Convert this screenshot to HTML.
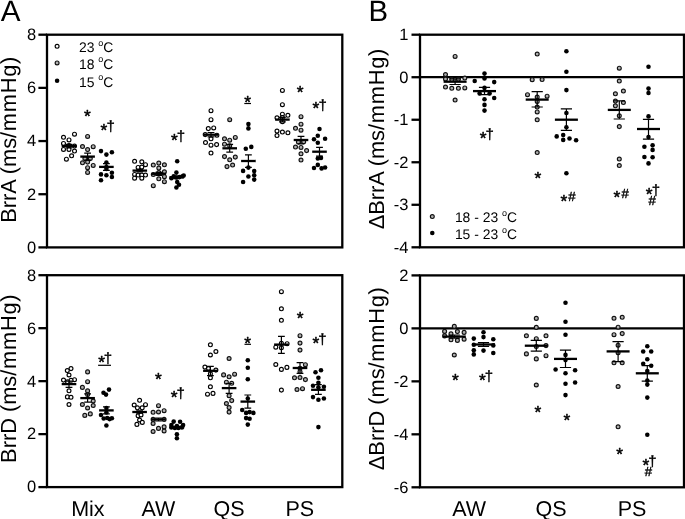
<!DOCTYPE html>
<html lang="en"><head><meta charset="utf-8"><title>Figure</title>
<style>html,body{margin:0;padding:0;background:#fff}svg{display:block;will-change:transform}text{text-rendering:geometricPrecision;font-family:"Liberation Sans", sans-serif;fill:#000}.s{stroke:#000;stroke-width:.5px;stroke-linejoin:round}.d{stroke:#000;stroke-width:.4px}</style>
</head><body>
<svg width="685" height="519" viewBox="0 0 685 519">
<rect width="685" height="519" fill="#fff"/>
<text x="0.7" y="20.8" font-size="29.6">A</text>
<text x="368.6" y="21.4" font-size="29.4">B</text>
<rect x="47.0" y="34.7" width="295.30" height="212.70" fill="none" stroke="#000" stroke-width="2.3"/>
<line x1="38.4" y1="34.70" x2="47.0" y2="34.70" stroke="#000" stroke-width="2.3"/>
<line x1="38.4" y1="87.88" x2="47.0" y2="87.88" stroke="#000" stroke-width="2.3"/>
<line x1="38.4" y1="141.05" x2="47.0" y2="141.05" stroke="#000" stroke-width="2.3"/>
<line x1="38.4" y1="194.22" x2="47.0" y2="194.22" stroke="#000" stroke-width="2.3"/>
<line x1="38.4" y1="247.40" x2="47.0" y2="247.40" stroke="#000" stroke-width="2.3"/>
<rect x="47.0" y="275.2" width="295.30" height="211.90" fill="none" stroke="#000" stroke-width="2.3"/>
<line x1="38.4" y1="275.20" x2="47.0" y2="275.20" stroke="#000" stroke-width="2.3"/>
<line x1="38.4" y1="328.18" x2="47.0" y2="328.18" stroke="#000" stroke-width="2.3"/>
<line x1="38.4" y1="381.15" x2="47.0" y2="381.15" stroke="#000" stroke-width="2.3"/>
<line x1="38.4" y1="434.12" x2="47.0" y2="434.12" stroke="#000" stroke-width="2.3"/>
<line x1="38.4" y1="487.10" x2="47.0" y2="487.10" stroke="#000" stroke-width="2.3"/>
<rect x="420.0" y="34.7" width="264.00" height="212.60" fill="none" stroke="#000" stroke-width="2.3"/>
<line x1="411.5" y1="34.70" x2="420.0" y2="34.70" stroke="#000" stroke-width="2.3"/>
<line x1="411.5" y1="77.22" x2="420.0" y2="77.22" stroke="#000" stroke-width="2.3"/>
<line x1="411.5" y1="119.74" x2="420.0" y2="119.74" stroke="#000" stroke-width="2.3"/>
<line x1="411.5" y1="162.26" x2="420.0" y2="162.26" stroke="#000" stroke-width="2.3"/>
<line x1="411.5" y1="204.78" x2="420.0" y2="204.78" stroke="#000" stroke-width="2.3"/>
<line x1="411.5" y1="247.30" x2="420.0" y2="247.30" stroke="#000" stroke-width="2.3"/>
<rect x="420.0" y="275.4" width="264.00" height="211.90" fill="none" stroke="#000" stroke-width="2.3"/>
<line x1="411.5" y1="275.40" x2="420.0" y2="275.40" stroke="#000" stroke-width="2.3"/>
<line x1="411.5" y1="328.38" x2="420.0" y2="328.38" stroke="#000" stroke-width="2.3"/>
<line x1="411.5" y1="381.35" x2="420.0" y2="381.35" stroke="#000" stroke-width="2.3"/>
<line x1="411.5" y1="434.32" x2="420.0" y2="434.32" stroke="#000" stroke-width="2.3"/>
<line x1="411.5" y1="487.30" x2="420.0" y2="487.30" stroke="#000" stroke-width="2.3"/>
<line x1="420.0" y1="77.22" x2="684.0" y2="77.22" stroke="#000" stroke-width="2.3"/>
<line x1="420.0" y1="328.38" x2="684.0" y2="328.38" stroke="#000" stroke-width="2.3"/>
<text x="36.2" y="40.06" font-size="16.5" text-anchor="end">8</text>
<text x="36.2" y="93.23" font-size="16.5" text-anchor="end">6</text>
<text x="36.2" y="146.41" font-size="16.5" text-anchor="end">4</text>
<text x="36.2" y="199.58" font-size="16.5" text-anchor="end">2</text>
<text x="36.2" y="252.76" font-size="16.5" text-anchor="end">0</text>
<text x="36.2" y="280.56" font-size="16.5" text-anchor="end">8</text>
<text x="36.2" y="333.53" font-size="16.5" text-anchor="end">6</text>
<text x="36.2" y="386.51" font-size="16.5" text-anchor="end">4</text>
<text x="36.2" y="439.48" font-size="16.5" text-anchor="end">2</text>
<text x="36.2" y="492.46" font-size="16.5" text-anchor="end">0</text>
<text x="408.5" y="40.06" font-size="16.5" text-anchor="end">1</text>
<text x="408.5" y="82.58" font-size="16.5" text-anchor="end">0</text>
<text x="408.5" y="125.10" font-size="16.5" text-anchor="end">-1</text>
<text x="408.5" y="167.62" font-size="16.5" text-anchor="end">-2</text>
<text x="408.5" y="210.14" font-size="16.5" text-anchor="end">-3</text>
<text x="408.5" y="252.66" font-size="16.5" text-anchor="end">-4</text>
<text x="408.5" y="280.76" font-size="16.5" text-anchor="end">2</text>
<text x="408.5" y="333.73" font-size="16.5" text-anchor="end">0</text>
<text x="408.5" y="386.71" font-size="16.5" text-anchor="end">-2</text>
<text x="408.5" y="439.68" font-size="16.5" text-anchor="end">-4</text>
<text x="408.5" y="492.66" font-size="16.5" text-anchor="end">-6</text>
<text transform="translate(16.2,222.7) rotate(-90)" font-size="21.8">BrrA (ms<tspan letter-spacing="0.75">/mmHg)</tspan></text>
<text transform="translate(16.4,462.9) rotate(-90)" font-size="21.8">BrrD (ms<tspan letter-spacing="0.75">/mmHg)</tspan></text>
<text transform="translate(384.0,229.3) rotate(-90)" font-size="21.8">ΔBrrA (ms<tspan letter-spacing="0.75">/mmHg)</tspan></text>
<text transform="translate(384.0,470.2) rotate(-90)" font-size="21.8">ΔBrrD (ms<tspan letter-spacing="0.75">/mmHg)</tspan></text>
<text x="87.9" y="515.8" font-size="21.5" text-anchor="middle">Mix</text>
<text x="158.5" y="515.8" font-size="21.5" text-anchor="middle">AW</text>
<text x="229.1" y="515.8" font-size="21.5" text-anchor="middle">QS</text>
<text x="299.8" y="515.8" font-size="21.5" text-anchor="middle">PS</text>
<text x="469.1" y="515.8" font-size="21.5" text-anchor="middle">AW</text>
<text x="551.1" y="515.8" font-size="21.5" text-anchor="middle">QS</text>
<text x="632.0" y="515.8" font-size="21.5" text-anchor="middle">PS</text>
<circle cx="57.1" cy="46.3" r="1.95" fill="#fff" stroke="#000" stroke-width="1.15"/>
<text x="79.0" y="52.20" font-size="13.9">23 <tspan font-size="9" dy="-6.4">o</tspan><tspan dy="6.4">C</tspan></text>
<circle cx="57.1" cy="62.9" r="1.95" fill="#b0b0b0" stroke="#111" stroke-width="1.15"/>
<text x="79.0" y="68.80" font-size="13.9">18 <tspan font-size="9" dy="-6.4">o</tspan><tspan dy="6.4">C</tspan></text>
<circle cx="57.1" cy="80.7" r="2.28" fill="#000"/>
<text x="79.0" y="86.60" font-size="13.9">15 <tspan font-size="9" dy="-6.4">o</tspan><tspan dy="6.4">C</tspan></text>
<circle cx="432.3" cy="216.5" r="1.95" fill="#b0b0b0" stroke="#111" stroke-width="1.15"/>
<text x="454.9" y="222.40" font-size="13.9">18 - 23 <tspan font-size="9" dy="-6.4">o</tspan><tspan dy="6.4">C</tspan></text>
<circle cx="432.3" cy="233.0" r="2.28" fill="#000"/>
<text x="454.9" y="238.90" font-size="13.9">15 - 23 <tspan font-size="9" dy="-6.4">o</tspan><tspan dy="6.4">C</tspan></text>
<circle cx="74.5" cy="134.2" r="1.95" fill="#fff" stroke="#000" stroke-width="1.15"/>
<circle cx="63.5" cy="137.3" r="1.95" fill="#fff" stroke="#000" stroke-width="1.15"/>
<circle cx="69" cy="139.9" r="1.95" fill="#fff" stroke="#000" stroke-width="1.15"/>
<circle cx="63.5" cy="143.4" r="1.95" fill="#fff" stroke="#000" stroke-width="1.15"/>
<circle cx="69" cy="145.5" r="1.95" fill="#fff" stroke="#000" stroke-width="1.15"/>
<circle cx="74.5" cy="146" r="1.95" fill="#fff" stroke="#000" stroke-width="1.15"/>
<circle cx="63.5" cy="149.4" r="1.95" fill="#fff" stroke="#000" stroke-width="1.15"/>
<circle cx="69" cy="149.4" r="1.95" fill="#fff" stroke="#000" stroke-width="1.15"/>
<circle cx="74.5" cy="151" r="1.95" fill="#fff" stroke="#000" stroke-width="1.15"/>
<circle cx="71.6" cy="155.8" r="1.95" fill="#fff" stroke="#000" stroke-width="1.15"/>
<circle cx="66.4" cy="159.2" r="1.95" fill="#fff" stroke="#000" stroke-width="1.15"/>
<path d="M69.0,144.4V147.8M65.6,144.4H72.4M65.6,147.8H72.4" stroke="#000" stroke-width="1.2" fill="none"/>
<line x1="61.7" y1="146.1" x2="76.3" y2="146.1" stroke="#000" stroke-width="2.3"/>
<circle cx="87.6" cy="136.4" r="1.95" fill="#b0b0b0" stroke="#111" stroke-width="1.15"/>
<circle cx="82.5" cy="146.5" r="1.95" fill="#b0b0b0" stroke="#111" stroke-width="1.15"/>
<circle cx="93.2" cy="146.7" r="1.95" fill="#b0b0b0" stroke="#111" stroke-width="1.15"/>
<circle cx="87.6" cy="149.6" r="1.95" fill="#b0b0b0" stroke="#111" stroke-width="1.15"/>
<circle cx="84.9" cy="158.6" r="1.95" fill="#b0b0b0" stroke="#111" stroke-width="1.15"/>
<circle cx="90.3" cy="158.6" r="1.95" fill="#b0b0b0" stroke="#111" stroke-width="1.15"/>
<circle cx="82.5" cy="162.8" r="1.95" fill="#b0b0b0" stroke="#111" stroke-width="1.15"/>
<circle cx="87.6" cy="162.1" r="1.95" fill="#b0b0b0" stroke="#111" stroke-width="1.15"/>
<circle cx="93.2" cy="165.4" r="1.95" fill="#b0b0b0" stroke="#111" stroke-width="1.15"/>
<circle cx="87.6" cy="167.7" r="1.95" fill="#b0b0b0" stroke="#111" stroke-width="1.15"/>
<circle cx="87.6" cy="172.4" r="1.95" fill="#b0b0b0" stroke="#111" stroke-width="1.15"/>
<path d="M87.6,153.1V160.1M84.19999999999999,153.1H91.0M84.19999999999999,160.1H91.0" stroke="#000" stroke-width="1.2" fill="none"/>
<line x1="80.3" y1="156.6" x2="94.89999999999999" y2="156.6" stroke="#000" stroke-width="2.3"/>
<circle cx="101" cy="151.1" r="2.28" fill="#000"/>
<circle cx="111.9" cy="152.2" r="2.28" fill="#000"/>
<circle cx="106.4" cy="154.6" r="2.28" fill="#000"/>
<circle cx="106.4" cy="162.5" r="2.28" fill="#000"/>
<circle cx="106.4" cy="169" r="2.28" fill="#000"/>
<circle cx="111.9" cy="172.7" r="2.28" fill="#000"/>
<circle cx="101" cy="174.4" r="2.28" fill="#000"/>
<circle cx="106.4" cy="175.3" r="2.28" fill="#000"/>
<circle cx="111.9" cy="177" r="2.28" fill="#000"/>
<circle cx="101" cy="180.3" r="2.28" fill="#000"/>
<circle cx="106.4" cy="167" r="2.28" fill="#000"/>
<path d="M106.4,163.6V170.3M103.0,163.6H109.80000000000001M103.0,170.3H109.80000000000001" stroke="#000" stroke-width="1.2" fill="none"/>
<line x1="99.10000000000001" y1="166.9" x2="113.7" y2="166.9" stroke="#000" stroke-width="2.3"/>
<circle cx="134.6" cy="161.3" r="1.95" fill="#fff" stroke="#000" stroke-width="1.15"/>
<circle cx="141.8" cy="161.8" r="1.95" fill="#fff" stroke="#000" stroke-width="1.15"/>
<circle cx="145.5" cy="164.7" r="1.95" fill="#fff" stroke="#000" stroke-width="1.15"/>
<circle cx="138.1" cy="167.4" r="1.95" fill="#fff" stroke="#000" stroke-width="1.15"/>
<circle cx="141.8" cy="167.1" r="1.95" fill="#fff" stroke="#000" stroke-width="1.15"/>
<circle cx="134.6" cy="174.4" r="1.95" fill="#fff" stroke="#000" stroke-width="1.15"/>
<circle cx="138.1" cy="175" r="1.95" fill="#fff" stroke="#000" stroke-width="1.15"/>
<circle cx="141.8" cy="175" r="1.95" fill="#fff" stroke="#000" stroke-width="1.15"/>
<circle cx="145.5" cy="175" r="1.95" fill="#fff" stroke="#000" stroke-width="1.15"/>
<circle cx="134.6" cy="178.2" r="1.95" fill="#fff" stroke="#000" stroke-width="1.15"/>
<circle cx="141.8" cy="178.2" r="1.95" fill="#fff" stroke="#000" stroke-width="1.15"/>
<path d="M139.8,169.4V171.8M136.4,169.4H143.20000000000002M136.4,171.8H143.20000000000002" stroke="#000" stroke-width="1.2" fill="none"/>
<line x1="132.5" y1="170.6" x2="147.10000000000002" y2="170.6" stroke="#000" stroke-width="2.3"/>
<circle cx="158.8" cy="163.1" r="1.95" fill="#b0b0b0" stroke="#111" stroke-width="1.15"/>
<circle cx="153.3" cy="165" r="1.95" fill="#b0b0b0" stroke="#111" stroke-width="1.15"/>
<circle cx="164.4" cy="164.8" r="1.95" fill="#b0b0b0" stroke="#111" stroke-width="1.15"/>
<circle cx="158.8" cy="168" r="1.95" fill="#b0b0b0" stroke="#111" stroke-width="1.15"/>
<circle cx="164.4" cy="171.8" r="1.95" fill="#b0b0b0" stroke="#111" stroke-width="1.15"/>
<circle cx="153.3" cy="174.4" r="1.95" fill="#b0b0b0" stroke="#111" stroke-width="1.15"/>
<circle cx="158.8" cy="172.5" r="1.95" fill="#b0b0b0" stroke="#111" stroke-width="1.15"/>
<circle cx="164.4" cy="176.7" r="1.95" fill="#b0b0b0" stroke="#111" stroke-width="1.15"/>
<circle cx="158.8" cy="178.8" r="1.95" fill="#b0b0b0" stroke="#111" stroke-width="1.15"/>
<circle cx="164.4" cy="181.7" r="1.95" fill="#b0b0b0" stroke="#111" stroke-width="1.15"/>
<circle cx="153.3" cy="185.7" r="1.95" fill="#b0b0b0" stroke="#111" stroke-width="1.15"/>
<path d="M158.8,172.3V175.3M155.4,172.3H162.20000000000002M155.4,175.3H162.20000000000002" stroke="#000" stroke-width="1.2" fill="none"/>
<line x1="151.5" y1="173.8" x2="166.10000000000002" y2="173.8" stroke="#000" stroke-width="2.3"/>
<circle cx="177.2" cy="161.2" r="2.28" fill="#000"/>
<circle cx="176.4" cy="172.6" r="2.28" fill="#000"/>
<circle cx="171.4" cy="178.3" r="2.28" fill="#000"/>
<circle cx="173.7" cy="176.2" r="2.28" fill="#000"/>
<circle cx="176.4" cy="177.5" r="2.28" fill="#000"/>
<circle cx="179.5" cy="177.0" r="2.28" fill="#000"/>
<circle cx="182.5" cy="176.3" r="2.28" fill="#000"/>
<circle cx="183.7" cy="175.5" r="2.28" fill="#000"/>
<circle cx="177.2" cy="182" r="2.28" fill="#000"/>
<circle cx="179" cy="184.7" r="2.28" fill="#000"/>
<circle cx="176.4" cy="187.5" r="2.28" fill="#000"/>
<path d="M176.8,176.0V178.6M173.4,176.0H180.20000000000002M173.4,178.6H180.20000000000002" stroke="#000" stroke-width="1.2" fill="none"/>
<line x1="169.5" y1="177.3" x2="184.10000000000002" y2="177.3" stroke="#000" stroke-width="2.3"/>
<circle cx="211" cy="110.7" r="1.95" fill="#fff" stroke="#000" stroke-width="1.15"/>
<circle cx="211" cy="119.7" r="1.95" fill="#fff" stroke="#000" stroke-width="1.15"/>
<circle cx="208.3" cy="128.6" r="1.95" fill="#fff" stroke="#000" stroke-width="1.15"/>
<circle cx="213.7" cy="127.9" r="1.95" fill="#fff" stroke="#000" stroke-width="1.15"/>
<circle cx="205.2" cy="134.6" r="1.95" fill="#fff" stroke="#000" stroke-width="1.15"/>
<circle cx="216.9" cy="135.2" r="1.95" fill="#fff" stroke="#000" stroke-width="1.15"/>
<circle cx="211" cy="138.8" r="1.95" fill="#fff" stroke="#000" stroke-width="1.15"/>
<circle cx="205.5" cy="142.5" r="1.95" fill="#fff" stroke="#000" stroke-width="1.15"/>
<circle cx="211" cy="145.2" r="1.95" fill="#fff" stroke="#000" stroke-width="1.15"/>
<circle cx="216.6" cy="144.6" r="1.95" fill="#fff" stroke="#000" stroke-width="1.15"/>
<circle cx="211" cy="153" r="1.95" fill="#fff" stroke="#000" stroke-width="1.15"/>
<path d="M211.0,132.5V136.9M207.6,132.5H214.4M207.6,136.9H214.4" stroke="#000" stroke-width="1.2" fill="none"/>
<line x1="203.7" y1="134.7" x2="218.3" y2="134.7" stroke="#000" stroke-width="2.3"/>
<circle cx="229.7" cy="119.7" r="1.95" fill="#b0b0b0" stroke="#111" stroke-width="1.15"/>
<circle cx="235.3" cy="137.4" r="1.95" fill="#b0b0b0" stroke="#111" stroke-width="1.15"/>
<circle cx="224.5" cy="138.8" r="1.95" fill="#b0b0b0" stroke="#111" stroke-width="1.15"/>
<circle cx="229.7" cy="140.2" r="1.95" fill="#b0b0b0" stroke="#111" stroke-width="1.15"/>
<circle cx="224.5" cy="144.2" r="1.95" fill="#b0b0b0" stroke="#111" stroke-width="1.15"/>
<circle cx="229.7" cy="145.8" r="1.95" fill="#b0b0b0" stroke="#111" stroke-width="1.15"/>
<circle cx="224.5" cy="156.6" r="1.95" fill="#b0b0b0" stroke="#111" stroke-width="1.15"/>
<circle cx="235.3" cy="157.1" r="1.95" fill="#b0b0b0" stroke="#111" stroke-width="1.15"/>
<circle cx="229.7" cy="159.8" r="1.95" fill="#b0b0b0" stroke="#111" stroke-width="1.15"/>
<circle cx="232.6" cy="165" r="1.95" fill="#b0b0b0" stroke="#111" stroke-width="1.15"/>
<circle cx="227" cy="166.6" r="1.95" fill="#b0b0b0" stroke="#111" stroke-width="1.15"/>
<path d="M229.7,144.4V152.2M226.29999999999998,144.4H233.1M226.29999999999998,152.2H233.1" stroke="#000" stroke-width="1.2" fill="none"/>
<line x1="222.39999999999998" y1="148.3" x2="237.0" y2="148.3" stroke="#000" stroke-width="2.3"/>
<circle cx="248.4" cy="124.1" r="2.28" fill="#000"/>
<circle cx="248.4" cy="128.4" r="2.28" fill="#000"/>
<circle cx="251.3" cy="146.9" r="2.28" fill="#000"/>
<circle cx="245.8" cy="148.7" r="2.28" fill="#000"/>
<circle cx="248.4" cy="167.6" r="2.28" fill="#000"/>
<circle cx="243.1" cy="170.9" r="2.28" fill="#000"/>
<circle cx="254.2" cy="171.1" r="2.28" fill="#000"/>
<circle cx="254.2" cy="175.2" r="2.28" fill="#000"/>
<circle cx="248.4" cy="176.5" r="2.28" fill="#000"/>
<circle cx="254.2" cy="179.6" r="2.28" fill="#000"/>
<circle cx="243.1" cy="182" r="2.28" fill="#000"/>
<path d="M248.4,154.9V167.4M245.0,154.9H251.8M245.0,167.4H251.8" stroke="#000" stroke-width="1.2" fill="none"/>
<line x1="241.1" y1="161.0" x2="255.70000000000002" y2="161.0" stroke="#000" stroke-width="2.3"/>
<circle cx="282.4" cy="90.4" r="1.95" fill="#fff" stroke="#000" stroke-width="1.15"/>
<circle cx="282.4" cy="104.7" r="1.95" fill="#fff" stroke="#000" stroke-width="1.15"/>
<circle cx="282.4" cy="114.2" r="1.95" fill="#fff" stroke="#000" stroke-width="1.15"/>
<circle cx="287.9" cy="115.3" r="1.95" fill="#fff" stroke="#000" stroke-width="1.15"/>
<circle cx="277" cy="117.8" r="1.95" fill="#fff" stroke="#000" stroke-width="1.15"/>
<circle cx="282.4" cy="117.6" r="1.95" fill="#fff" stroke="#000" stroke-width="1.15"/>
<circle cx="282.4" cy="121.7" r="1.95" fill="#fff" stroke="#000" stroke-width="1.15"/>
<circle cx="277" cy="131" r="1.95" fill="#fff" stroke="#000" stroke-width="1.15"/>
<circle cx="282.4" cy="132" r="1.95" fill="#fff" stroke="#000" stroke-width="1.15"/>
<circle cx="287.9" cy="132.8" r="1.95" fill="#fff" stroke="#000" stroke-width="1.15"/>
<circle cx="277" cy="135.5" r="1.95" fill="#fff" stroke="#000" stroke-width="1.15"/>
<path d="M282.4,117.3V121.9M279.0,117.3H285.79999999999995M279.0,121.9H285.79999999999995" stroke="#000" stroke-width="1.2" fill="none"/>
<line x1="275.09999999999997" y1="119.6" x2="289.7" y2="119.6" stroke="#000" stroke-width="2.3"/>
<circle cx="301" cy="116.7" r="1.95" fill="#b0b0b0" stroke="#111" stroke-width="1.15"/>
<circle cx="301" cy="124.2" r="1.95" fill="#b0b0b0" stroke="#111" stroke-width="1.15"/>
<circle cx="295.5" cy="128.3" r="1.95" fill="#b0b0b0" stroke="#111" stroke-width="1.15"/>
<circle cx="301" cy="130.2" r="1.95" fill="#b0b0b0" stroke="#111" stroke-width="1.15"/>
<circle cx="298.4" cy="142.1" r="1.95" fill="#b0b0b0" stroke="#111" stroke-width="1.15"/>
<circle cx="303.7" cy="141.8" r="1.95" fill="#b0b0b0" stroke="#111" stroke-width="1.15"/>
<circle cx="295.5" cy="147" r="1.95" fill="#b0b0b0" stroke="#111" stroke-width="1.15"/>
<circle cx="301" cy="147.4" r="1.95" fill="#b0b0b0" stroke="#111" stroke-width="1.15"/>
<circle cx="306.6" cy="150.6" r="1.95" fill="#b0b0b0" stroke="#111" stroke-width="1.15"/>
<circle cx="301" cy="153.8" r="1.95" fill="#b0b0b0" stroke="#111" stroke-width="1.15"/>
<circle cx="301" cy="160" r="1.95" fill="#b0b0b0" stroke="#111" stroke-width="1.15"/>
<path d="M301.0,136.3V143.9M297.6,136.3H304.4M297.6,143.9H304.4" stroke="#000" stroke-width="1.2" fill="none"/>
<line x1="293.7" y1="140.0" x2="308.3" y2="140.0" stroke="#000" stroke-width="2.3"/>
<circle cx="319.5" cy="129" r="2.28" fill="#000"/>
<circle cx="317.8" cy="135.7" r="2.28" fill="#000"/>
<circle cx="314" cy="139.2" r="2.28" fill="#000"/>
<circle cx="325.1" cy="138.8" r="2.28" fill="#000"/>
<circle cx="317.8" cy="142.7" r="2.28" fill="#000"/>
<circle cx="317.8" cy="158.5" r="2.28" fill="#000"/>
<circle cx="321" cy="157.9" r="2.28" fill="#000"/>
<circle cx="317.8" cy="164.9" r="2.28" fill="#000"/>
<circle cx="314" cy="168" r="2.28" fill="#000"/>
<circle cx="325.1" cy="167.5" r="2.28" fill="#000"/>
<circle cx="321.6" cy="168.4" r="2.28" fill="#000"/>
<path d="M319.5,147.4V156.1M316.1,147.4H322.9M316.1,156.1H322.9" stroke="#000" stroke-width="1.2" fill="none"/>
<line x1="312.2" y1="151.7" x2="326.8" y2="151.7" stroke="#000" stroke-width="2.3"/>
<circle cx="71" cy="368.6" r="1.95" fill="#fff" stroke="#000" stroke-width="1.15"/>
<circle cx="67.3" cy="370.6" r="1.95" fill="#fff" stroke="#000" stroke-width="1.15"/>
<circle cx="69" cy="375" r="1.95" fill="#fff" stroke="#000" stroke-width="1.15"/>
<circle cx="63.5" cy="380.1" r="1.95" fill="#fff" stroke="#000" stroke-width="1.15"/>
<circle cx="74.5" cy="379.7" r="1.95" fill="#fff" stroke="#000" stroke-width="1.15"/>
<circle cx="71" cy="380.3" r="1.95" fill="#fff" stroke="#000" stroke-width="1.15"/>
<circle cx="67.5" cy="381.8" r="1.95" fill="#fff" stroke="#000" stroke-width="1.15"/>
<circle cx="69" cy="390.8" r="1.95" fill="#fff" stroke="#000" stroke-width="1.15"/>
<circle cx="67.4" cy="396.9" r="1.95" fill="#fff" stroke="#000" stroke-width="1.15"/>
<circle cx="71" cy="397.3" r="1.95" fill="#fff" stroke="#000" stroke-width="1.15"/>
<circle cx="69" cy="404.5" r="1.95" fill="#fff" stroke="#000" stroke-width="1.15"/>
<path d="M69.0,381.1V387.3M65.6,381.1H72.4M65.6,387.3H72.4" stroke="#000" stroke-width="1.2" fill="none"/>
<line x1="61.7" y1="384.1" x2="76.3" y2="384.1" stroke="#000" stroke-width="2.3"/>
<circle cx="87.6" cy="371.9" r="1.95" fill="#b0b0b0" stroke="#111" stroke-width="1.15"/>
<circle cx="87.6" cy="381.7" r="1.95" fill="#b0b0b0" stroke="#111" stroke-width="1.15"/>
<circle cx="82.4" cy="387.4" r="1.95" fill="#b0b0b0" stroke="#111" stroke-width="1.15"/>
<circle cx="87.6" cy="390.9" r="1.95" fill="#b0b0b0" stroke="#111" stroke-width="1.15"/>
<circle cx="87.6" cy="394.6" r="1.95" fill="#b0b0b0" stroke="#111" stroke-width="1.15"/>
<circle cx="93.2" cy="401" r="1.95" fill="#b0b0b0" stroke="#111" stroke-width="1.15"/>
<circle cx="82.4" cy="404.5" r="1.95" fill="#b0b0b0" stroke="#111" stroke-width="1.15"/>
<circle cx="93.2" cy="405.5" r="1.95" fill="#b0b0b0" stroke="#111" stroke-width="1.15"/>
<circle cx="87.6" cy="408" r="1.95" fill="#b0b0b0" stroke="#111" stroke-width="1.15"/>
<circle cx="90.3" cy="413.9" r="1.95" fill="#b0b0b0" stroke="#111" stroke-width="1.15"/>
<circle cx="84.8" cy="415.4" r="1.95" fill="#b0b0b0" stroke="#111" stroke-width="1.15"/>
<path d="M87.6,393.8V402.2M84.19999999999999,393.8H91.0M84.19999999999999,402.2H91.0" stroke="#000" stroke-width="1.2" fill="none"/>
<line x1="80.3" y1="398.1" x2="94.89999999999999" y2="398.1" stroke="#000" stroke-width="2.3"/>
<circle cx="109" cy="389.6" r="2.28" fill="#000"/>
<circle cx="103.5" cy="392.7" r="2.28" fill="#000"/>
<circle cx="106" cy="394.6" r="2.28" fill="#000"/>
<circle cx="106.4" cy="408" r="2.28" fill="#000"/>
<circle cx="101" cy="415" r="2.28" fill="#000"/>
<circle cx="103.7" cy="418.5" r="2.28" fill="#000"/>
<circle cx="107.2" cy="418" r="2.28" fill="#000"/>
<circle cx="109.6" cy="419.1" r="2.28" fill="#000"/>
<circle cx="111.9" cy="418.3" r="2.28" fill="#000"/>
<circle cx="106.4" cy="425.5" r="2.28" fill="#000"/>
<circle cx="106.4" cy="412.5" r="2.28" fill="#000"/>
<path d="M106.4,406.9V413.9M103.0,406.9H109.80000000000001M103.0,413.9H109.80000000000001" stroke="#000" stroke-width="1.2" fill="none"/>
<line x1="99.10000000000001" y1="410.4" x2="113.7" y2="410.4" stroke="#000" stroke-width="2.3"/>
<circle cx="139.6" cy="400.3" r="1.95" fill="#fff" stroke="#000" stroke-width="1.15"/>
<circle cx="134.2" cy="405" r="1.95" fill="#fff" stroke="#000" stroke-width="1.15"/>
<circle cx="145.5" cy="404.7" r="1.95" fill="#fff" stroke="#000" stroke-width="1.15"/>
<circle cx="137.4" cy="407.8" r="1.95" fill="#fff" stroke="#000" stroke-width="1.15"/>
<circle cx="142.2" cy="407.8" r="1.95" fill="#fff" stroke="#000" stroke-width="1.15"/>
<circle cx="138.1" cy="415.8" r="1.95" fill="#fff" stroke="#000" stroke-width="1.15"/>
<circle cx="141" cy="414.9" r="1.95" fill="#fff" stroke="#000" stroke-width="1.15"/>
<circle cx="139.6" cy="420" r="1.95" fill="#fff" stroke="#000" stroke-width="1.15"/>
<circle cx="142.3" cy="422.4" r="1.95" fill="#fff" stroke="#000" stroke-width="1.15"/>
<circle cx="136.9" cy="424.4" r="1.95" fill="#fff" stroke="#000" stroke-width="1.15"/>
<path d="M139.6,410.8V413.2M136.2,410.8H143.0M136.2,413.2H143.0" stroke="#000" stroke-width="1.2" fill="none"/>
<line x1="132.29999999999998" y1="412.0" x2="146.9" y2="412.0" stroke="#000" stroke-width="2.3"/>
<circle cx="158.5" cy="405.7" r="1.95" fill="#b0b0b0" stroke="#111" stroke-width="1.15"/>
<circle cx="164.1" cy="410.7" r="1.95" fill="#b0b0b0" stroke="#111" stroke-width="1.15"/>
<circle cx="153.1" cy="412.3" r="1.95" fill="#b0b0b0" stroke="#111" stroke-width="1.15"/>
<circle cx="158.5" cy="412" r="1.95" fill="#b0b0b0" stroke="#111" stroke-width="1.15"/>
<circle cx="153.1" cy="419.4" r="1.95" fill="#b0b0b0" stroke="#111" stroke-width="1.15"/>
<circle cx="164.1" cy="419.4" r="1.95" fill="#b0b0b0" stroke="#111" stroke-width="1.15"/>
<circle cx="153.1" cy="423.5" r="1.95" fill="#b0b0b0" stroke="#111" stroke-width="1.15"/>
<circle cx="164.1" cy="426.9" r="1.95" fill="#b0b0b0" stroke="#111" stroke-width="1.15"/>
<circle cx="158.5" cy="428.4" r="1.95" fill="#b0b0b0" stroke="#111" stroke-width="1.15"/>
<circle cx="164.1" cy="431" r="1.95" fill="#b0b0b0" stroke="#111" stroke-width="1.15"/>
<circle cx="153.1" cy="431.5" r="1.95" fill="#b0b0b0" stroke="#111" stroke-width="1.15"/>
<path d="M158.5,418.0V421.0M155.1,418.0H161.9M155.1,421.0H161.9" stroke="#000" stroke-width="1.2" fill="none"/>
<line x1="151.2" y1="419.4" x2="165.8" y2="419.4" stroke="#000" stroke-width="2.3"/>
<circle cx="173.7" cy="421.6" r="2.28" fill="#000"/>
<circle cx="180.1" cy="421.8" r="2.28" fill="#000"/>
<circle cx="171.4" cy="425.1" r="2.28" fill="#000"/>
<circle cx="183.1" cy="425.1" r="2.28" fill="#000"/>
<circle cx="171.4" cy="427.4" r="2.28" fill="#000"/>
<circle cx="174.9" cy="428" r="2.28" fill="#000"/>
<circle cx="178.4" cy="428" r="2.28" fill="#000"/>
<circle cx="181.9" cy="427.4" r="2.28" fill="#000"/>
<circle cx="176.9" cy="426" r="2.28" fill="#000"/>
<circle cx="176.9" cy="434.2" r="2.28" fill="#000"/>
<circle cx="176.9" cy="438.3" r="2.28" fill="#000"/>
<path d="M176.9,426.4V428.4M173.5,426.4H180.3M173.5,428.4H180.3" stroke="#000" stroke-width="1.2" fill="none"/>
<line x1="169.6" y1="427.4" x2="184.20000000000002" y2="427.4" stroke="#000" stroke-width="2.3"/>
<circle cx="210.4" cy="344.8" r="1.95" fill="#fff" stroke="#000" stroke-width="1.15"/>
<circle cx="215.9" cy="351.5" r="1.95" fill="#fff" stroke="#000" stroke-width="1.15"/>
<circle cx="210.4" cy="355" r="1.95" fill="#fff" stroke="#000" stroke-width="1.15"/>
<circle cx="204.9" cy="367.1" r="1.95" fill="#fff" stroke="#000" stroke-width="1.15"/>
<circle cx="215.9" cy="370.1" r="1.95" fill="#fff" stroke="#000" stroke-width="1.15"/>
<circle cx="208.5" cy="368.5" r="1.95" fill="#fff" stroke="#000" stroke-width="1.15"/>
<circle cx="210.4" cy="373.8" r="1.95" fill="#fff" stroke="#000" stroke-width="1.15"/>
<circle cx="210.4" cy="377.8" r="1.95" fill="#fff" stroke="#000" stroke-width="1.15"/>
<circle cx="210.4" cy="386.8" r="1.95" fill="#fff" stroke="#000" stroke-width="1.15"/>
<circle cx="207.5" cy="394.2" r="1.95" fill="#fff" stroke="#000" stroke-width="1.15"/>
<circle cx="213" cy="393.4" r="1.95" fill="#fff" stroke="#000" stroke-width="1.15"/>
<path d="M210.4,366.3V375.6M207.0,366.3H213.8M207.0,375.6H213.8" stroke="#000" stroke-width="1.2" fill="none"/>
<line x1="203.1" y1="370.8" x2="217.70000000000002" y2="370.8" stroke="#000" stroke-width="2.3"/>
<circle cx="229.1" cy="358.5" r="1.95" fill="#b0b0b0" stroke="#111" stroke-width="1.15"/>
<circle cx="234.6" cy="374.2" r="1.95" fill="#b0b0b0" stroke="#111" stroke-width="1.15"/>
<circle cx="223.6" cy="374.9" r="1.95" fill="#b0b0b0" stroke="#111" stroke-width="1.15"/>
<circle cx="229.1" cy="376.8" r="1.95" fill="#b0b0b0" stroke="#111" stroke-width="1.15"/>
<circle cx="226.4" cy="382.2" r="1.95" fill="#b0b0b0" stroke="#111" stroke-width="1.15"/>
<circle cx="231.7" cy="383.3" r="1.95" fill="#b0b0b0" stroke="#111" stroke-width="1.15"/>
<circle cx="229.1" cy="395.7" r="1.95" fill="#b0b0b0" stroke="#111" stroke-width="1.15"/>
<circle cx="231.7" cy="400.6" r="1.95" fill="#b0b0b0" stroke="#111" stroke-width="1.15"/>
<circle cx="226.4" cy="403.5" r="1.95" fill="#b0b0b0" stroke="#111" stroke-width="1.15"/>
<circle cx="229.1" cy="407.6" r="1.95" fill="#b0b0b0" stroke="#111" stroke-width="1.15"/>
<circle cx="229.1" cy="412.1" r="1.95" fill="#b0b0b0" stroke="#111" stroke-width="1.15"/>
<path d="M229.1,383.5V393.4M225.7,383.5H232.5M225.7,393.4H232.5" stroke="#000" stroke-width="1.2" fill="none"/>
<line x1="221.79999999999998" y1="388.1" x2="236.4" y2="388.1" stroke="#000" stroke-width="2.3"/>
<circle cx="247.8" cy="360.3" r="2.28" fill="#000"/>
<circle cx="247.8" cy="367.7" r="2.28" fill="#000"/>
<circle cx="247.8" cy="379.2" r="2.28" fill="#000"/>
<circle cx="247.8" cy="398.5" r="2.28" fill="#000"/>
<circle cx="242.2" cy="410" r="2.28" fill="#000"/>
<circle cx="246.1" cy="412.9" r="2.28" fill="#000"/>
<circle cx="249.6" cy="412.1" r="2.28" fill="#000"/>
<circle cx="253.4" cy="412.9" r="2.28" fill="#000"/>
<circle cx="246.1" cy="418.1" r="2.28" fill="#000"/>
<circle cx="249.6" cy="418.7" r="2.28" fill="#000"/>
<circle cx="247.8" cy="424.6" r="2.28" fill="#000"/>
<path d="M247.8,395.0V408.2M244.4,395.0H251.20000000000002M244.4,408.2H251.20000000000002" stroke="#000" stroke-width="1.2" fill="none"/>
<line x1="240.5" y1="401.6" x2="255.10000000000002" y2="401.6" stroke="#000" stroke-width="2.3"/>
<circle cx="281.4" cy="291.7" r="1.95" fill="#fff" stroke="#000" stroke-width="1.15"/>
<circle cx="281.4" cy="308.8" r="1.95" fill="#fff" stroke="#000" stroke-width="1.15"/>
<circle cx="281.4" cy="320.3" r="1.95" fill="#fff" stroke="#000" stroke-width="1.15"/>
<circle cx="281.4" cy="343.3" r="1.95" fill="#fff" stroke="#000" stroke-width="1.15"/>
<circle cx="287.1" cy="343.7" r="1.95" fill="#fff" stroke="#000" stroke-width="1.15"/>
<circle cx="275.8" cy="347.2" r="1.95" fill="#fff" stroke="#000" stroke-width="1.15"/>
<circle cx="281.4" cy="347.8" r="1.95" fill="#fff" stroke="#000" stroke-width="1.15"/>
<circle cx="275.8" cy="364.5" r="1.95" fill="#fff" stroke="#000" stroke-width="1.15"/>
<circle cx="286.9" cy="367.4" r="1.95" fill="#fff" stroke="#000" stroke-width="1.15"/>
<circle cx="281.4" cy="369.4" r="1.95" fill="#fff" stroke="#000" stroke-width="1.15"/>
<circle cx="281.4" cy="390.1" r="1.95" fill="#fff" stroke="#000" stroke-width="1.15"/>
<path d="M281.4,336.4V353.4M278.0,336.4H284.79999999999995M278.0,353.4H284.79999999999995" stroke="#000" stroke-width="1.2" fill="none"/>
<line x1="274.09999999999997" y1="344.6" x2="288.7" y2="344.6" stroke="#000" stroke-width="2.3"/>
<circle cx="300" cy="335.7" r="1.95" fill="#b0b0b0" stroke="#111" stroke-width="1.15"/>
<circle cx="300" cy="343.1" r="1.95" fill="#b0b0b0" stroke="#111" stroke-width="1.15"/>
<circle cx="300" cy="350.1" r="1.95" fill="#b0b0b0" stroke="#111" stroke-width="1.15"/>
<circle cx="305.4" cy="364.7" r="1.95" fill="#b0b0b0" stroke="#111" stroke-width="1.15"/>
<circle cx="300" cy="368.2" r="1.95" fill="#b0b0b0" stroke="#111" stroke-width="1.15"/>
<circle cx="300" cy="371.7" r="1.95" fill="#b0b0b0" stroke="#111" stroke-width="1.15"/>
<circle cx="294.5" cy="377.8" r="1.95" fill="#b0b0b0" stroke="#111" stroke-width="1.15"/>
<circle cx="300" cy="377.5" r="1.95" fill="#b0b0b0" stroke="#111" stroke-width="1.15"/>
<circle cx="305.4" cy="379.6" r="1.95" fill="#b0b0b0" stroke="#111" stroke-width="1.15"/>
<circle cx="297" cy="389.5" r="1.95" fill="#b0b0b0" stroke="#111" stroke-width="1.15"/>
<circle cx="302.5" cy="388.7" r="1.95" fill="#b0b0b0" stroke="#111" stroke-width="1.15"/>
<path d="M300.0,362.6V373.3M296.6,362.6H303.4M296.6,373.3H303.4" stroke="#000" stroke-width="1.2" fill="none"/>
<line x1="292.7" y1="368.0" x2="307.3" y2="368.0" stroke="#000" stroke-width="2.3"/>
<circle cx="321" cy="370.2" r="2.28" fill="#000"/>
<circle cx="315.5" cy="372.2" r="2.28" fill="#000"/>
<circle cx="318.4" cy="377.7" r="2.28" fill="#000"/>
<circle cx="318.4" cy="382.8" r="2.28" fill="#000"/>
<circle cx="313" cy="385.8" r="2.28" fill="#000"/>
<circle cx="323.9" cy="386.8" r="2.28" fill="#000"/>
<circle cx="318.4" cy="387.2" r="2.28" fill="#000"/>
<circle cx="313" cy="397.1" r="2.28" fill="#000"/>
<circle cx="323.9" cy="398.5" r="2.28" fill="#000"/>
<circle cx="318.4" cy="399.8" r="2.28" fill="#000"/>
<circle cx="318.4" cy="427.1" r="2.28" fill="#000"/>
<path d="M318.4,384.6V394.4M315.0,384.6H321.79999999999995M315.0,394.4H321.79999999999995" stroke="#000" stroke-width="1.2" fill="none"/>
<line x1="311.09999999999997" y1="389.8" x2="325.7" y2="389.8" stroke="#000" stroke-width="2.3"/>
<circle cx="455.1" cy="56.4" r="1.95" fill="#b0b0b0" stroke="#111" stroke-width="1.15"/>
<circle cx="445.5" cy="74.5" r="1.95" fill="#b0b0b0" stroke="#111" stroke-width="1.15"/>
<circle cx="464.8" cy="78" r="1.95" fill="#b0b0b0" stroke="#111" stroke-width="1.15"/>
<circle cx="445.5" cy="79" r="1.95" fill="#b0b0b0" stroke="#111" stroke-width="1.15"/>
<circle cx="451.8" cy="79.5" r="1.95" fill="#b0b0b0" stroke="#111" stroke-width="1.15"/>
<circle cx="458.4" cy="79.3" r="1.95" fill="#b0b0b0" stroke="#111" stroke-width="1.15"/>
<circle cx="445.5" cy="87" r="1.95" fill="#b0b0b0" stroke="#111" stroke-width="1.15"/>
<circle cx="451.8" cy="88.3" r="1.95" fill="#b0b0b0" stroke="#111" stroke-width="1.15"/>
<circle cx="458.4" cy="88.3" r="1.95" fill="#b0b0b0" stroke="#111" stroke-width="1.15"/>
<circle cx="464.8" cy="87.9" r="1.95" fill="#b0b0b0" stroke="#111" stroke-width="1.15"/>
<circle cx="455.1" cy="100" r="1.95" fill="#b0b0b0" stroke="#111" stroke-width="1.15"/>
<path d="M455.1,78.9V84.5M449.5,78.9H460.70000000000005M449.5,84.5H460.70000000000005" stroke="#000" stroke-width="1.2" fill="none"/>
<line x1="443.6" y1="81.7" x2="466.6" y2="81.7" stroke="#000" stroke-width="2.3"/>
<circle cx="484.5" cy="73.6" r="2.28" fill="#000"/>
<circle cx="484.5" cy="78.5" r="2.28" fill="#000"/>
<circle cx="474.7" cy="81" r="2.28" fill="#000"/>
<circle cx="494.2" cy="82.1" r="2.28" fill="#000"/>
<circle cx="484.5" cy="87.9" r="2.28" fill="#000"/>
<circle cx="479.6" cy="93.4" r="2.28" fill="#000"/>
<circle cx="489.6" cy="93.4" r="2.28" fill="#000"/>
<circle cx="494.2" cy="98" r="2.28" fill="#000"/>
<circle cx="484.5" cy="99.2" r="2.28" fill="#000"/>
<circle cx="484.5" cy="104.9" r="2.28" fill="#000"/>
<circle cx="484.5" cy="110.6" r="2.28" fill="#000"/>
<path d="M484.5,87.4V94.6M478.9,87.4H490.1M478.9,94.6H490.1" stroke="#000" stroke-width="1.2" fill="none"/>
<line x1="473.0" y1="91.1" x2="496.0" y2="91.1" stroke="#000" stroke-width="2.3"/>
<circle cx="537.2" cy="54" r="1.95" fill="#b0b0b0" stroke="#111" stroke-width="1.15"/>
<circle cx="532.2" cy="79.7" r="1.95" fill="#b0b0b0" stroke="#111" stroke-width="1.15"/>
<circle cx="542.1" cy="79.5" r="1.95" fill="#b0b0b0" stroke="#111" stroke-width="1.15"/>
<circle cx="527.5" cy="94.7" r="1.95" fill="#b0b0b0" stroke="#111" stroke-width="1.15"/>
<circle cx="547.1" cy="96.2" r="1.95" fill="#b0b0b0" stroke="#111" stroke-width="1.15"/>
<circle cx="537.2" cy="97.1" r="1.95" fill="#b0b0b0" stroke="#111" stroke-width="1.15"/>
<circle cx="537.2" cy="101.4" r="1.95" fill="#b0b0b0" stroke="#111" stroke-width="1.15"/>
<circle cx="537.2" cy="107" r="1.95" fill="#b0b0b0" stroke="#111" stroke-width="1.15"/>
<circle cx="537.2" cy="111.9" r="1.95" fill="#b0b0b0" stroke="#111" stroke-width="1.15"/>
<circle cx="537.2" cy="119.8" r="1.95" fill="#b0b0b0" stroke="#111" stroke-width="1.15"/>
<circle cx="537.2" cy="152.5" r="1.95" fill="#b0b0b0" stroke="#111" stroke-width="1.15"/>
<path d="M537.2,91.7V107.0M531.6,91.7H542.8000000000001M531.6,107.0H542.8000000000001" stroke="#000" stroke-width="1.2" fill="none"/>
<line x1="525.7" y1="99.6" x2="548.7" y2="99.6" stroke="#000" stroke-width="2.3"/>
<circle cx="566.4" cy="51.3" r="2.28" fill="#000"/>
<circle cx="566.4" cy="71.8" r="2.28" fill="#000"/>
<circle cx="566.4" cy="90.1" r="2.28" fill="#000"/>
<circle cx="566.4" cy="113" r="2.28" fill="#000"/>
<circle cx="566.4" cy="127.3" r="2.28" fill="#000"/>
<circle cx="556.7" cy="136.4" r="2.28" fill="#000"/>
<circle cx="563.2" cy="135" r="2.28" fill="#000"/>
<circle cx="563.2" cy="139.9" r="2.28" fill="#000"/>
<circle cx="569.5" cy="138.5" r="2.28" fill="#000"/>
<circle cx="576.1" cy="140.2" r="2.28" fill="#000"/>
<circle cx="566.4" cy="173.3" r="2.28" fill="#000"/>
<path d="M566.4,108.9V130.3M560.8,108.9H572.0M560.8,130.3H572.0" stroke="#000" stroke-width="1.2" fill="none"/>
<line x1="554.9" y1="119.7" x2="577.9" y2="119.7" stroke="#000" stroke-width="2.3"/>
<circle cx="619.3" cy="68.2" r="1.95" fill="#b0b0b0" stroke="#111" stroke-width="1.15"/>
<circle cx="619.3" cy="81" r="1.95" fill="#b0b0b0" stroke="#111" stroke-width="1.15"/>
<circle cx="623.4" cy="91" r="1.95" fill="#b0b0b0" stroke="#111" stroke-width="1.15"/>
<circle cx="615.4" cy="93.8" r="1.95" fill="#b0b0b0" stroke="#111" stroke-width="1.15"/>
<circle cx="615.4" cy="101.1" r="1.95" fill="#b0b0b0" stroke="#111" stroke-width="1.15"/>
<circle cx="623.4" cy="102.5" r="1.95" fill="#b0b0b0" stroke="#111" stroke-width="1.15"/>
<circle cx="615.4" cy="105.8" r="1.95" fill="#b0b0b0" stroke="#111" stroke-width="1.15"/>
<circle cx="619.3" cy="115.8" r="1.95" fill="#b0b0b0" stroke="#111" stroke-width="1.15"/>
<circle cx="619.3" cy="126.6" r="1.95" fill="#b0b0b0" stroke="#111" stroke-width="1.15"/>
<circle cx="619.3" cy="159" r="1.95" fill="#b0b0b0" stroke="#111" stroke-width="1.15"/>
<circle cx="619.3" cy="165.5" r="1.95" fill="#b0b0b0" stroke="#111" stroke-width="1.15"/>
<path d="M619.3,100.8V119.0M613.6999999999999,100.8H624.9M613.6999999999999,119.0H624.9" stroke="#000" stroke-width="1.2" fill="none"/>
<line x1="607.8" y1="109.9" x2="630.8" y2="109.9" stroke="#000" stroke-width="2.3"/>
<circle cx="648.5" cy="66.8" r="2.28" fill="#000"/>
<circle cx="648.5" cy="88.6" r="2.28" fill="#000"/>
<circle cx="648.5" cy="93" r="2.28" fill="#000"/>
<circle cx="648.5" cy="116.4" r="2.28" fill="#000"/>
<circle cx="648.5" cy="137.1" r="2.28" fill="#000"/>
<circle cx="644.4" cy="146.8" r="2.28" fill="#000"/>
<circle cx="652.6" cy="145.2" r="2.28" fill="#000"/>
<circle cx="652.6" cy="149.9" r="2.28" fill="#000"/>
<circle cx="644.4" cy="157" r="2.28" fill="#000"/>
<circle cx="652.6" cy="157.3" r="2.28" fill="#000"/>
<circle cx="648.5" cy="163.4" r="2.28" fill="#000"/>
<path d="M648.5,119.3V139.1M642.9,119.3H654.1M642.9,139.1H654.1" stroke="#000" stroke-width="1.2" fill="none"/>
<line x1="637.0" y1="129.0" x2="660.0" y2="129.0" stroke="#000" stroke-width="2.3"/>
<circle cx="454.3" cy="326.4" r="1.95" fill="#b0b0b0" stroke="#111" stroke-width="1.15"/>
<circle cx="444.6" cy="331.4" r="1.95" fill="#b0b0b0" stroke="#111" stroke-width="1.15"/>
<circle cx="457.4" cy="331.6" r="1.95" fill="#b0b0b0" stroke="#111" stroke-width="1.15"/>
<circle cx="464.1" cy="332.4" r="1.95" fill="#b0b0b0" stroke="#111" stroke-width="1.15"/>
<circle cx="451" cy="333.9" r="1.95" fill="#b0b0b0" stroke="#111" stroke-width="1.15"/>
<circle cx="444.6" cy="335.9" r="1.95" fill="#b0b0b0" stroke="#111" stroke-width="1.15"/>
<circle cx="451" cy="339.8" r="1.95" fill="#b0b0b0" stroke="#111" stroke-width="1.15"/>
<circle cx="457.4" cy="340.4" r="1.95" fill="#b0b0b0" stroke="#111" stroke-width="1.15"/>
<circle cx="464.1" cy="339.2" r="1.95" fill="#b0b0b0" stroke="#111" stroke-width="1.15"/>
<circle cx="454.3" cy="355" r="1.95" fill="#b0b0b0" stroke="#111" stroke-width="1.15"/>
<path d="M454.3,335.0V338.2M448.7,335.0H459.90000000000003M448.7,338.2H459.90000000000003" stroke="#000" stroke-width="1.2" fill="none"/>
<line x1="442.8" y1="336.6" x2="465.8" y2="336.6" stroke="#000" stroke-width="2.3"/>
<circle cx="483.5" cy="332.2" r="2.28" fill="#000"/>
<circle cx="483.5" cy="337.1" r="2.28" fill="#000"/>
<circle cx="473.8" cy="338.6" r="2.28" fill="#000"/>
<circle cx="493.3" cy="339.2" r="2.28" fill="#000"/>
<circle cx="473.8" cy="344.7" r="2.28" fill="#000"/>
<circle cx="493.3" cy="345.4" r="2.28" fill="#000"/>
<circle cx="483.5" cy="350.6" r="2.28" fill="#000"/>
<circle cx="473.8" cy="350.3" r="2.28" fill="#000"/>
<circle cx="493.3" cy="353" r="2.28" fill="#000"/>
<circle cx="473.8" cy="354.4" r="2.28" fill="#000"/>
<path d="M483.5,342.7V346.4M477.9,342.7H489.1M477.9,346.4H489.1" stroke="#000" stroke-width="1.2" fill="none"/>
<line x1="472.0" y1="344.5" x2="495.0" y2="344.5" stroke="#000" stroke-width="2.3"/>
<circle cx="536.3" cy="318.4" r="1.95" fill="#b0b0b0" stroke="#111" stroke-width="1.15"/>
<circle cx="536.3" cy="327.4" r="1.95" fill="#b0b0b0" stroke="#111" stroke-width="1.15"/>
<circle cx="526.4" cy="335.8" r="1.95" fill="#b0b0b0" stroke="#111" stroke-width="1.15"/>
<circle cx="546" cy="335.8" r="1.95" fill="#b0b0b0" stroke="#111" stroke-width="1.15"/>
<circle cx="536.3" cy="338.7" r="1.95" fill="#b0b0b0" stroke="#111" stroke-width="1.15"/>
<circle cx="546" cy="345.6" r="1.95" fill="#b0b0b0" stroke="#111" stroke-width="1.15"/>
<circle cx="536.3" cy="346.5" r="1.95" fill="#b0b0b0" stroke="#111" stroke-width="1.15"/>
<circle cx="526.4" cy="353.9" r="1.95" fill="#b0b0b0" stroke="#111" stroke-width="1.15"/>
<circle cx="546" cy="355.7" r="1.95" fill="#b0b0b0" stroke="#111" stroke-width="1.15"/>
<circle cx="536.3" cy="358.9" r="1.95" fill="#b0b0b0" stroke="#111" stroke-width="1.15"/>
<circle cx="536.3" cy="385" r="1.95" fill="#b0b0b0" stroke="#111" stroke-width="1.15"/>
<path d="M536.3,340.4V351.1M530.6999999999999,340.4H541.9M530.6999999999999,351.1H541.9" stroke="#000" stroke-width="1.2" fill="none"/>
<line x1="524.8" y1="345.7" x2="547.8" y2="345.7" stroke="#000" stroke-width="2.3"/>
<circle cx="565.5" cy="302.8" r="2.28" fill="#000"/>
<circle cx="565.5" cy="321.8" r="2.28" fill="#000"/>
<circle cx="565.5" cy="334.7" r="2.28" fill="#000"/>
<circle cx="565.5" cy="354.9" r="2.28" fill="#000"/>
<circle cx="565.5" cy="360.1" r="2.28" fill="#000"/>
<circle cx="555.6" cy="369.5" r="2.28" fill="#000"/>
<circle cx="575.1" cy="370.3" r="2.28" fill="#000"/>
<circle cx="565.5" cy="373.3" r="2.28" fill="#000"/>
<circle cx="565.5" cy="383.7" r="2.28" fill="#000"/>
<circle cx="575.1" cy="382.5" r="2.28" fill="#000"/>
<circle cx="565.5" cy="395.1" r="2.28" fill="#000"/>
<path d="M565.5,350.2V367.5M559.9,350.2H571.1M559.9,367.5H571.1" stroke="#000" stroke-width="1.2" fill="none"/>
<line x1="554.0" y1="358.9" x2="577.0" y2="358.9" stroke="#000" stroke-width="2.3"/>
<circle cx="614" cy="318.3" r="1.95" fill="#b0b0b0" stroke="#111" stroke-width="1.15"/>
<circle cx="622.2" cy="317.3" r="1.95" fill="#b0b0b0" stroke="#111" stroke-width="1.15"/>
<circle cx="618.1" cy="327.2" r="1.95" fill="#b0b0b0" stroke="#111" stroke-width="1.15"/>
<circle cx="614" cy="334.7" r="1.95" fill="#b0b0b0" stroke="#111" stroke-width="1.15"/>
<circle cx="622.2" cy="333.6" r="1.95" fill="#b0b0b0" stroke="#111" stroke-width="1.15"/>
<circle cx="618.1" cy="345.2" r="1.95" fill="#b0b0b0" stroke="#111" stroke-width="1.15"/>
<circle cx="618.1" cy="352.8" r="1.95" fill="#b0b0b0" stroke="#111" stroke-width="1.15"/>
<circle cx="614" cy="362.8" r="1.95" fill="#b0b0b0" stroke="#111" stroke-width="1.15"/>
<circle cx="622.2" cy="362.8" r="1.95" fill="#b0b0b0" stroke="#111" stroke-width="1.15"/>
<circle cx="618.1" cy="386.5" r="1.95" fill="#b0b0b0" stroke="#111" stroke-width="1.15"/>
<circle cx="618.1" cy="426.8" r="1.95" fill="#b0b0b0" stroke="#111" stroke-width="1.15"/>
<path d="M618.1,341.6V361.6M612.5,341.6H623.7M612.5,361.6H623.7" stroke="#000" stroke-width="1.2" fill="none"/>
<line x1="606.6" y1="351.4" x2="629.6" y2="351.4" stroke="#000" stroke-width="2.3"/>
<circle cx="647.3" cy="346.2" r="2.28" fill="#000"/>
<circle cx="643.2" cy="351.5" r="2.28" fill="#000"/>
<circle cx="651.2" cy="351.5" r="2.28" fill="#000"/>
<circle cx="647.3" cy="359.2" r="2.28" fill="#000"/>
<circle cx="643.2" cy="363.7" r="2.28" fill="#000"/>
<circle cx="651.2" cy="365.7" r="2.28" fill="#000"/>
<circle cx="647.3" cy="371" r="2.28" fill="#000"/>
<circle cx="647.3" cy="380.6" r="2.28" fill="#000"/>
<circle cx="647.3" cy="384.6" r="2.28" fill="#000"/>
<circle cx="647.3" cy="397.6" r="2.28" fill="#000"/>
<circle cx="647.3" cy="434.7" r="2.28" fill="#000"/>
<path d="M647.3,365.7V381.1M641.6999999999999,365.7H652.9M641.6999999999999,381.1H652.9" stroke="#000" stroke-width="1.2" fill="none"/>
<line x1="635.8" y1="373.3" x2="658.8" y2="373.3" stroke="#000" stroke-width="2.3"/>
<text class="s" x="84.11" y="121.72" font-size="17.4">*</text>
<text class="s" x="100.61" y="136.12" font-size="17.4">*</text>
<text class="d" x="106.43" y="131.08" font-size="15.0">†</text>
<text class="s" x="171.11" y="146.42" font-size="17.4">*</text>
<text class="d" x="176.63" y="141.09" font-size="15.0">†</text>
<text class="s" x="244.26" y="107.67" font-size="17.4">*</text>
<line x1="244.3" y1="103.5" x2="251.0" y2="103.5" stroke="#000" stroke-width="1.2"/>
<text class="s" x="296.76" y="98.07" font-size="17.4">*</text>
<text class="s" x="312.61" y="114.32" font-size="17.4">*</text>
<text class="d" x="318.43" y="109.89" font-size="15.0">†</text>
<text class="s" x="98.21" y="368.37" font-size="17.4">*</text>
<text class="d" x="103.78" y="362.88" font-size="15.0">†</text>
<line x1="98.1" y1="365.3" x2="111.0" y2="365.3" stroke="#000" stroke-width="1.2"/>
<text class="s" x="155.01" y="385.32" font-size="17.4">*</text>
<text class="s" x="170.71" y="402.57" font-size="17.4">*</text>
<text class="d" x="176.38" y="397.88" font-size="15.0">†</text>
<text class="s" x="244.36" y="348.57" font-size="17.4">*</text>
<line x1="244.5" y1="344.3" x2="251.0" y2="344.3" stroke="#000" stroke-width="1.2"/>
<text class="s" x="296.71" y="324.22" font-size="17.4">*</text>
<text class="s" x="312.46" y="349.17" font-size="17.4">*</text>
<text class="d" x="318.13" y="344.04" font-size="15.0">†</text>
<text class="s" x="479.76" y="143.57" font-size="17.4">*</text>
<text class="d" x="485.58" y="139.04" font-size="15.0">†</text>
<text class="s" x="534.56" y="183.77" font-size="17.4">*</text>
<text class="s" x="560.51" y="206.67" font-size="17.4">*</text>
<text class="d" x="568.19" y="201.10" font-size="13.2">#</text>
<text class="s" x="613.46" y="203.17" font-size="17.4">*</text>
<text class="d" x="621.49" y="197.70" font-size="13.2">#</text>
<text class="s" x="645.76" y="200.02" font-size="17.4">*</text>
<text class="d" x="651.63" y="195.04" font-size="15.0">†</text>
<text class="d" x="648.49" y="204.80" font-size="13.2">#</text>
<text class="s" x="451.96" y="385.72" font-size="17.4">*</text>
<text class="s" x="478.91" y="385.72" font-size="17.4">*</text>
<text class="d" x="484.68" y="380.94" font-size="15.0">†</text>
<text class="s" x="534.56" y="418.12" font-size="17.4">*</text>
<text class="s" x="563.41" y="426.37" font-size="17.4">*</text>
<text class="s" x="616.31" y="459.67" font-size="17.4">*</text>
<text class="s" x="642.56" y="471.27" font-size="17.4">*</text>
<text class="d" x="648.23" y="466.38" font-size="15.0">†</text>
<text class="d" x="644.84" y="475.90" font-size="13.2">#</text>
</svg></body></html>
